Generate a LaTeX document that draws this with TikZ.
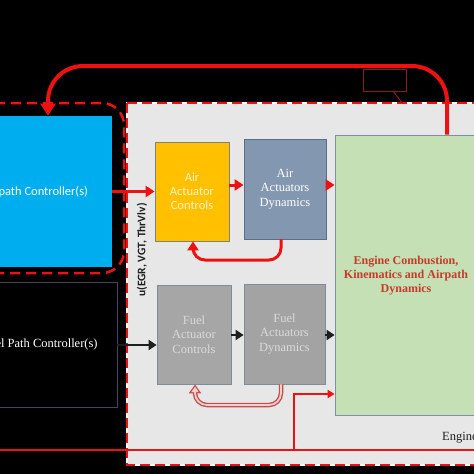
\documentclass[tikz,border=0pt]{standalone}
\usepackage{fontspec}
\setmainfont{Liberation Serif}
\newfontfamily\calib{Carlito}
\usetikzlibrary{arrows.meta}
\definecolor{bgray}{HTML}{E7E7E7}
\definecolor{arrred}{HTML}{EE1111}
\definecolor{arrblk}{HTML}{1E1E1E}
\definecolor{cblue}{HTML}{00ADEF}
\definecolor{cyel}{HTML}{FFC000}
\definecolor{cyeltxt}{HTML}{FFF2CC}
\definecolor{cslate}{HTML}{8497B0}
\definecolor{cslatedr}{HTML}{5B6F8A}
\definecolor{cgrayA}{HTML}{A6A6A6}
\definecolor{cgrayB}{HTML}{A3A3A3}
\definecolor{cgraytxt}{HTML}{DADADA}
\definecolor{cboxdr}{HTML}{7F8C9A}
\definecolor{cgreen}{HTML}{C5E0B4}
\definecolor{cgreendr}{HTML}{7F8FA6}
\definecolor{engred}{HTML}{C43B2B}
\definecolor{lblred}{HTML}{8B1A1A}
\definecolor{fbout}{HTML}{C0504D}
\definecolor{fbin}{HTML}{F4CCCC}
\definecolor{fuelbd}{HTML}{3B4A5C}
\tikzset{
  box/.style={draw, line width=0.8pt, inner sep=0pt, align=center, font=\fontsize{12.5}{14.5}\selectfont},
  redarr/.style={draw=arrred, line width=3pt, -{Triangle[length=9pt,width=11pt]}},
  blkarr/.style={draw=arrblk, line width=2.5pt, -{Triangle[length=8pt,width=10pt]}},
}
\begin{document}
\begin{tikzpicture}[x=1pt,y=-1pt]
\useasboundingbox (0,0) rectangle (474,474);
\fill[black] (0,0) rectangle (474,474);
% engine region
\fill[bgray] (127,103) rectangle (490,465);
\draw[white, line width=2pt] (127,103) rectangle (490,465);
\draw[arrred, line width=2.5pt, dash pattern=on 10pt off 5pt] (127,103) rectangle (490,465);
% controllers
\node[box, fill=cblue, draw=none, text=white, font=\calib\fontsize{12.5}{14}\selectfont, minimum width=152, minimum height=151] (apc) at (36,191.5) {Airpath Controller(s)};
\node[box, fill=black, draw=fuelbd, text=white, minimum width=154, minimum height=125] (fpc) at (40,344.5) {Fuel Path Controller(s)};
\draw[arrred, line width=2.5pt, dash pattern=on 10pt off 6pt, rounded corners=22pt] (-5,103) -- (124,103) -- (124,273) -- (-5,273);
% blocks
\node[box, fill=cyel, draw=gray, text=cyeltxt, font=\calib\fontsize{12.5}{14}\selectfont, minimum width=74, minimum height=99] (aac) at (192,191.5) {Air\\Actuator\\Controls};
\node[box, fill=cslate, draw=cslatedr, text=white, minimum width=82, minimum height=100] (aad) at (285,189) {Air\\Actuators\\Dynamics};
\node[box, fill=cgrayA, draw=cboxdr, text=cgraytxt, minimum width=74, minimum height=99] (fac) at (194,334.5) {Fuel\\Actuator\\Controls};
\node[box, fill=cgrayB, draw=cboxdr, text=cgraytxt, minimum width=81, minimum height=100] (fad) at (284.5,334) {Fuel\\Actuators\\Dynamics};
\node[box, fill=cgreen, draw=cgreendr, minimum width=155, minimum height=280] (eng) at (412.5,275) {};
\node[align=center, text=engred, font=\bfseries\fontsize{12}{14}\selectfont] (englab) at (406,276) {Engine Combustion,\\Kinematics and Airpath\\Dynamics};
% labels
\node[rotate=90, text=arrblk, font=\calib\bfseries\fontsize{11.5}{13}\selectfont] (ulab) at (142,250) {u(EGR, VGT, ThrVlv)};
\node[anchor=base west, text=arrblk, font=\fontsize{12.5}{14}\selectfont, inner sep=0pt] (englbl) at (442,440) {Engine};
% air arrows
\coordinate (ya) at (0,185);
\draw[redarr] (apc.east |- aac.west) -- (aac.west);
\draw[redarr] (aac.east |- ya) -- (aad.west |- ya);
\draw[redarr] (aad.east |- ya) -- (eng.west |- ya);
\coordinate (fbA) at (281,260);
\coordinate (fbB) at (193,260);
\draw[redarr, rounded corners=12pt] (aad.south -| fbA) -- (fbA) -- (fbB) -- (aac.south -| fbB);
% fuel arrows
\coordinate (yf) at (0,345);
\coordinate (yg) at (0,335);
\draw[blkarr] (fpc.east |- yf) -- (fac.west |- yf);
\draw[blkarr] (fac.east |- yg) -- (fad.west |- yg);
\draw[blkarr] (fad.east |- yg) -- (eng.west |- yg);
\coordinate (ffA) at (281,405);
\coordinate (ffB) at (195,405);
\draw[fbout, line width=4.5pt, rounded corners=12pt, -{Triangle[length=9pt,width=12pt]}] (fad.south -| ffA) -- (ffA) -- (ffB) -- (fac.south -| ffB);
\draw[fbin, line width=1.8pt, rounded corners=12pt, shorten >=2.2pt, -{Triangle[length=5.5pt,width=7pt]}] (fad.south -| ffA) -- (ffA) -- (ffB) -- (fac.south -| ffB);
% top loop
\coordinate (tA) at (447,66);
\coordinate (tB) at (48,66);
\draw[arrred, line width=4pt, rounded corners=35pt, -{Triangle[length=12pt,width=15pt]}] (eng.north -| tA) -- (tA) -- (tB) -- (apc.north -| tB);
% tag
\node[draw=lblred, line width=1pt, minimum width=43, minimum height=22, inner sep=0pt] (tag) at (384.5,80) {};
\coordinate (tagS) at (393,91);
\coordinate (tagE) at (402,103);
\draw[lblred, line width=1pt] (tagS) -- (tagE);
% bottom line
\coordinate (bL) at (-5,450);
\coordinate (bR) at (490,450);
\coordinate (bJ) at (294,450);
\coordinate (bK) at (294,394);
\draw[arrred, line width=2pt] (bL) -- (bR);
\draw[arrred, line width=2pt, -{Triangle[length=7pt,width=8pt]}] (bJ) -- (bK) -- (eng.west |- bK);
\end{tikzpicture}
\end{document}
